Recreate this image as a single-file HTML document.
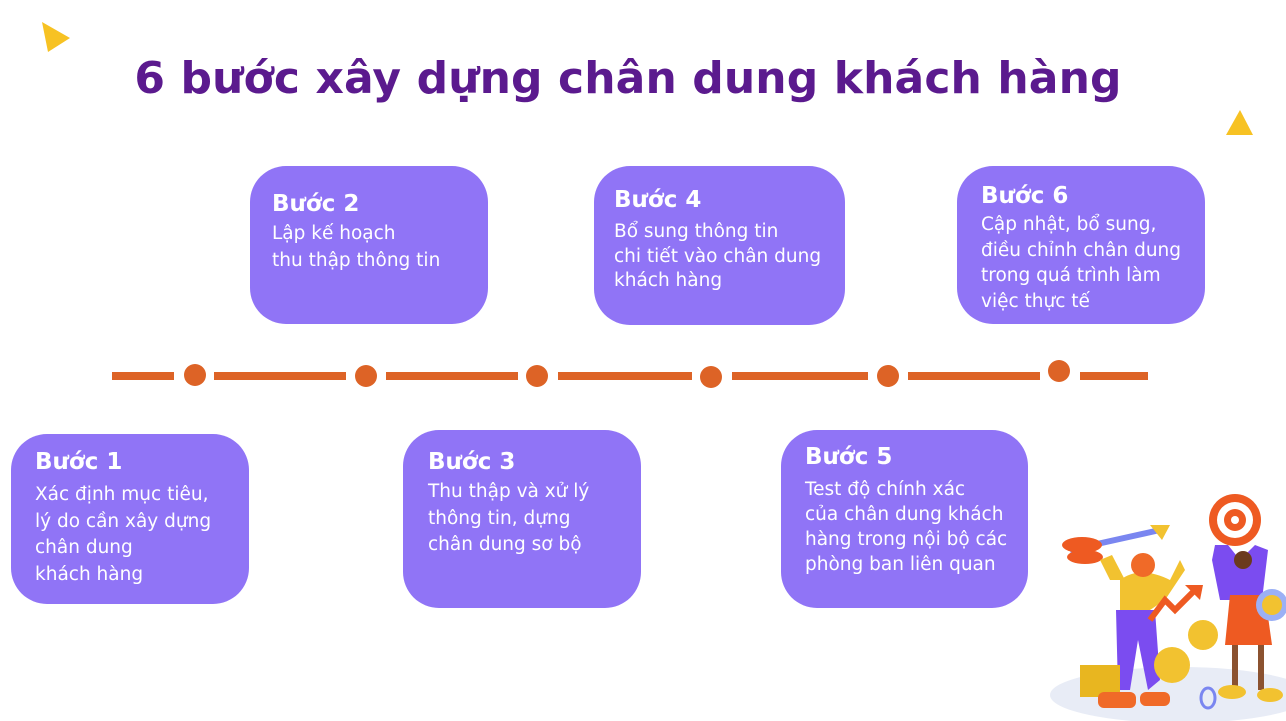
<!DOCTYPE html>
<html><head><meta charset="utf-8"><style>
*{margin:0;padding:0}
body{width:1286px;height:721px;background:#fff;position:relative;overflow:hidden;font-family:"DejaVu Sans","Liberation Sans",sans-serif}
h1{position:absolute;left:0;top:53px;width:1256px;text-align:center;font-size:44px;font-weight:bold;color:#5b1a8e;letter-spacing:0.1px;white-space:nowrap}
.b{position:absolute;background:#9074f6;border-radius:36px;color:#fff;box-sizing:border-box;padding-left:24px}
.b h2{font-size:23px;font-weight:bold;line-height:28px}
.b p{font-size:18.5px;line-height:26.5px;margin-top:5px;white-space:nowrap}
.seg{position:absolute;top:372px;height:8px;background:#dd6326}
.dot{position:absolute;width:22px;height:22px;border-radius:50%;background:#dd6326}
</style></head><body>
<svg width="1286" height="721" style="position:absolute;left:0;top:0">
<polygon points="42,22 70,38 48,52" fill="#f7c223"/>
<polygon points="1226,135 1240,110 1253,135" fill="#f7c223"/>
<ellipse cx="1180" cy="695" rx="130" ry="28" fill="#e8ecf6"/>
<circle cx="1235" cy="520" r="26" fill="#ee5a22"/><circle cx="1235" cy="520" r="18" fill="#fff"/><circle cx="1235" cy="520" r="11" fill="#ee5a22"/><circle cx="1235" cy="520" r="4" fill="#fff"/>
<line x1="1070" y1="550" x2="1160" y2="530" stroke="#7a86f0" stroke-width="6"/>
<ellipse cx="1082" cy="545" rx="20" ry="8" fill="#ee5a22"/><ellipse cx="1085" cy="557" rx="18" ry="7" fill="#ee5a22"/>
<polygon points="1150,525 1170,525 1162,540" fill="#f2c230"/>
<path d="M1110 580 L1100 560 L1112 555 L1125 580Z" fill="#f2c230"/>
<path d="M1120 580 Q1140 565 1170 580 L1180 560 L1185 570 L1165 600 L1150 610 L1120 610Z" fill="#f2c230"/>
<circle cx="1143" cy="565" r="12" fill="#f06a28"/>
<path d="M1116 610 L1155 610 L1160 680 L1148 690 L1138 640 L1130 690 L1118 690Z" fill="#7b4cf0"/>
<polyline points="1150,620 1165,600 1175,610 1195,590" stroke="#ee5a22" stroke-width="6" fill="none"/>
<polygon points="1185,585 1203,585 1200,600" fill="#ee5a22"/>
<circle cx="1203" cy="635" r="15" fill="#f2c230"/><circle cx="1172" cy="665" r="18" fill="#f2c230"/>
<rect x="1080" y="665" width="40" height="32" fill="#e8b620"/>
<rect x="1098" y="692" width="38" height="16" rx="6" fill="#f06a28"/><rect x="1140" y="692" width="30" height="14" rx="6" fill="#f06a28"/>
<path d="M1215 545 L1228 545 L1240 560 L1255 545 L1268 550 L1262 600 L1220 600 L1212 560Z" fill="#7b4cf0"/>
<circle cx="1243" cy="560" r="9" fill="#6b3a1e"/>
<path d="M1230 595 L1265 595 L1272 645 L1225 645Z" fill="#ee5a22"/>
<rect x="1232" y="645" width="6" height="45" fill="#8b5230"/><rect x="1258" y="645" width="6" height="45" fill="#8b5230"/>
<ellipse cx="1232" cy="692" rx="14" ry="7" fill="#f2c230"/><ellipse cx="1270" cy="695" rx="13" ry="7" fill="#f2c230"/>
<circle cx="1272" cy="605" r="16" fill="#9bb0f5"/><circle cx="1272" cy="605" r="10" fill="#f2c230"/>
<ellipse cx="1208" cy="698" rx="7" ry="10" fill="none" stroke="#7a86f0" stroke-width="3"/>
</svg>
<h1>6 bước xây dựng chân dung khách hàng</h1>
<div class="seg" style="left:112px;width:62px"></div>
<div class="seg" style="left:214px;width:132px"></div>
<div class="seg" style="left:386px;width:132px"></div>
<div class="seg" style="left:558px;width:134px"></div>
<div class="seg" style="left:732px;width:136px"></div>
<div class="seg" style="left:908px;width:132px"></div>
<div class="seg" style="left:1080px;width:68px"></div>
<div class="dot" style="left:184px;top:364px"></div>
<div class="dot" style="left:355px;top:365px"></div>
<div class="dot" style="left:526px;top:365px"></div>
<div class="dot" style="left:700px;top:366px"></div>
<div class="dot" style="left:877px;top:365px"></div>
<div class="dot" style="left:1048px;top:360px"></div>
<div class="b" style="left:11px;top:434px;width:238px;height:170px;padding-top:14px"><h2>Bước 1</h2><p style="margin-top:6px">Xác định mục tiêu,<br>lý do cần xây dựng<br>chân dung<br>khách hàng</p></div>
<div class="b" style="left:250px;top:166px;width:238px;height:158px;padding-top:24px;padding-left:22px"><h2>Bước 2</h2><p style="margin-top:3px">Lập kế hoạch<br>thu thập thông tin</p></div>
<div class="b" style="left:403px;top:430px;width:238px;height:178px;padding-top:18px;padding-left:25px"><h2>Bước 3</h2><p style="margin-top:3px">Thu thập và xử lý<br>thông tin, dựng<br>chân dung sơ bộ</p></div>
<div class="b" style="left:594px;top:166px;width:251px;height:159px;padding-top:20px;padding-left:20px"><h2>Bước 4</h2><p style="line-height:24.5px;margin-top:6px">Bổ sung thông tin<br>chi tiết vào chân dung<br>khách hàng</p></div>
<div class="b" style="left:781px;top:430px;width:247px;height:178px;padding-top:13px"><h2>Bước 5</h2><p style="line-height:25px;margin-top:6px">Test độ chính xác<br>của chân dung khách<br>hàng trong nội bộ các<br>phòng ban liên quan</p></div>
<div class="b" style="left:957px;top:166px;width:248px;height:158px;padding-top:16px"><h2>Bước 6</h2><p style="line-height:25.7px;margin-top:2px">Cập nhật, bổ sung,<br>điều chỉnh chân dung<br>trong quá trình làm<br>việc thực tế</p></div>
</body></html>
